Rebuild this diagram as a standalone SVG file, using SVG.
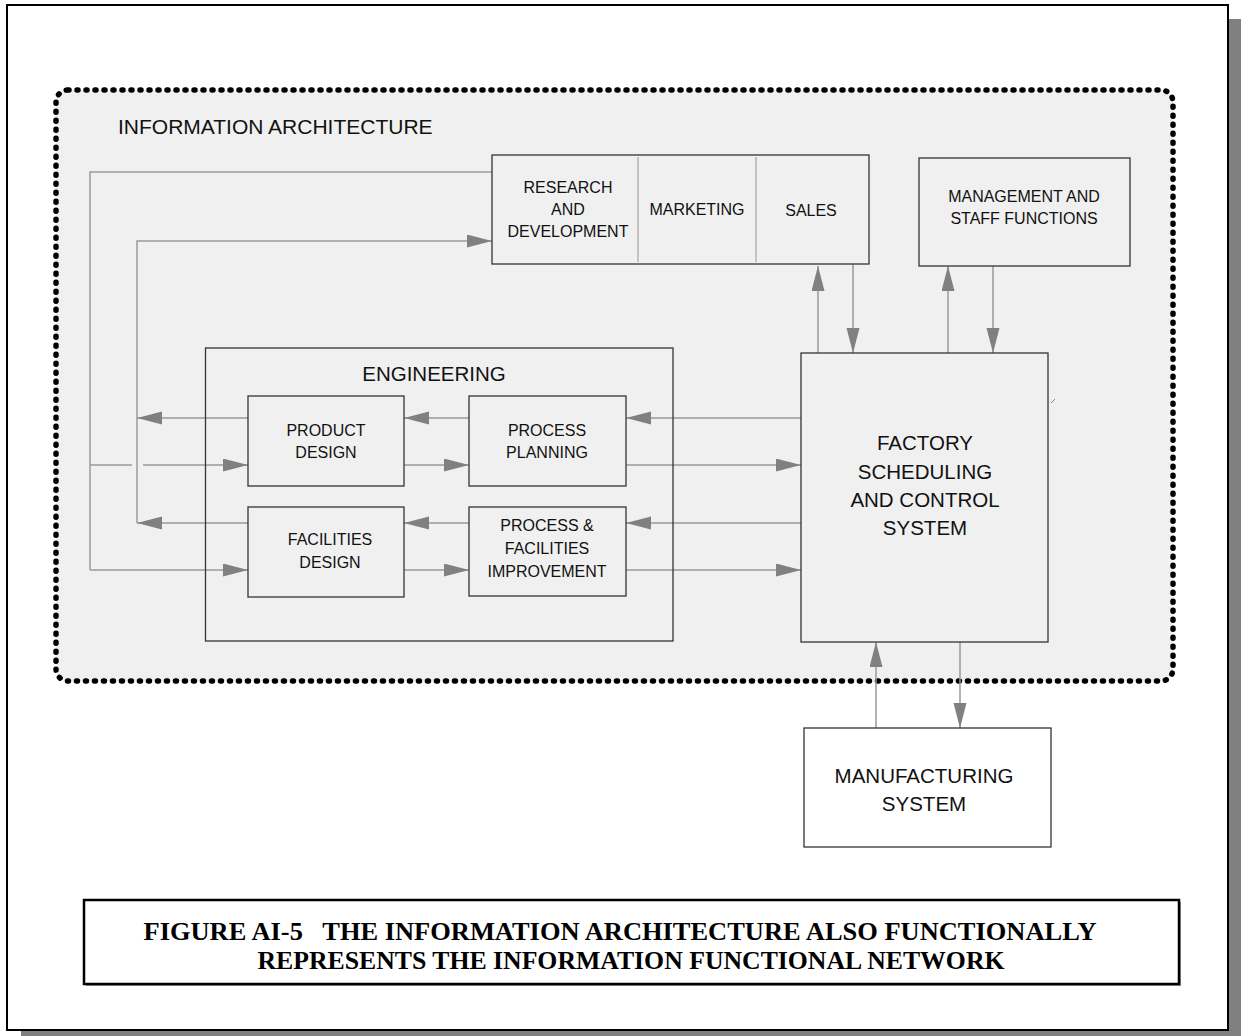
<svg xmlns="http://www.w3.org/2000/svg" width="1241" height="1036" viewBox="0 0 1241 1036">
<defs>
<marker id="ah" markerUnits="userSpaceOnUse" markerWidth="26" markerHeight="14" refX="25" refY="6.5" orient="auto">
<path d="M0,0 L25,6.5 L0,13 Z" fill="#808080"/>
</marker>
<style>
.lbl{font-family:"Liberation Sans",Arial,sans-serif;font-size:16px;fill:#111;text-anchor:middle}
.big{font-family:"Liberation Sans",Arial,sans-serif;font-size:20.5px;fill:#111;text-anchor:middle}
.box{fill:none;stroke:#333;stroke-width:1.3}
.conn{stroke:#9a9a9a;stroke-width:1.5;fill:none}
.arr{stroke:#9a9a9a;stroke-width:1.5;fill:none;marker-end:url(#ah)}
.cap{font-family:"Liberation Serif","Times New Roman",serif;font-weight:bold;font-size:26px;fill:#000;text-anchor:middle;white-space:pre}
</style>
</defs>
<rect x="21" y="19" width="1220" height="1017" fill="#808080"/>
<rect x="7" y="5" width="1221" height="1025" fill="#fff" stroke="#000" stroke-width="2"/>
<g id="information-architecture">
<rect x="56" y="90" width="1117" height="591" rx="12" fill="#f0f0f0" stroke="#000" stroke-width="5.5" stroke-linecap="round" stroke-dasharray="1 8"/>
<text x="118" y="134" class="big" style="text-anchor:start;font-size:21px">INFORMATION ARCHITECTURE</text>
</g>
<g id="connectors">
<polyline class="conn" points="492,172 90,172 90,570"/>
<polyline class="arr" points="137,523 137,241 492,241"/>
<line class="arr" x1="801" y1="418" x2="626" y2="418"/>
<line class="arr" x1="469" y1="418" x2="404" y2="418"/>
<line class="arr" x1="248" y1="418" x2="137" y2="418"/>
<line class="conn" x1="90" y1="465" x2="132" y2="465"/>
<line class="arr" x1="143" y1="465" x2="248" y2="465"/>
<line class="arr" x1="404" y1="465" x2="469" y2="465"/>
<line class="arr" x1="626" y1="465" x2="801" y2="465"/>
<line class="arr" x1="801" y1="523" x2="626" y2="523"/>
<line class="arr" x1="469" y1="523" x2="404" y2="523"/>
<line class="arr" x1="248" y1="523" x2="137" y2="523"/>
<line class="arr" x1="90" y1="570" x2="248" y2="570"/>
<line class="arr" x1="404" y1="570" x2="469" y2="570"/>
<line class="arr" x1="626" y1="570" x2="801" y2="570"/>
<line class="arr" x1="818" y1="353" x2="818" y2="266"/>
<line class="arr" x1="853" y1="264" x2="853" y2="353"/>
<line class="arr" x1="948" y1="353" x2="948" y2="266"/>
<line class="arr" x1="993" y1="266" x2="993" y2="353"/>
<line class="arr" x1="876" y1="728" x2="876" y2="642"/>
<line class="arr" x1="960" y1="642" x2="960" y2="728"/>
<line x1="1051" y1="403" x2="1055" y2="399" stroke="#888" stroke-width="1"/>
</g>
<g id="rd-marketing-sales">
<rect class="box" x="492" y="155" width="377" height="109"/>
<line x1="638" y1="157" x2="638" y2="262" stroke="#aaa" stroke-width="1.3"/>
<line x1="756" y1="157" x2="756" y2="262" stroke="#aaa" stroke-width="1.3"/>
<text class="lbl" x="568" y="193">RESEARCH</text>
<text class="lbl" x="568" y="215">AND</text>
<text class="lbl" x="568" y="237">DEVELOPMENT</text>
<text class="lbl" x="697" y="215">MARKETING</text>
<text class="lbl" x="811" y="216">SALES</text>
</g>
<g id="management">
<rect class="box" x="919" y="158" width="211" height="108"/>
<text class="lbl" x="1024" y="202">MANAGEMENT AND</text>
<text class="lbl" x="1024" y="224">STAFF FUNCTIONS</text>
</g>
<g id="engineering">
<rect class="box" x="205.5" y="348" width="467.5" height="293" stroke="#222"/>
<text class="big" x="434" y="381">ENGINEERING</text>
</g>
<g id="product-design">
<rect class="box" x="248" y="396" width="156" height="90" stroke="#222"/>
<text class="lbl" x="326" y="436">PRODUCT</text>
<text class="lbl" x="326" y="458">DESIGN</text>
</g>
<g id="process-planning">
<rect class="box" x="469" y="396" width="157" height="90" stroke="#222"/>
<text class="lbl" x="547" y="436">PROCESS</text>
<text class="lbl" x="547" y="458">PLANNING</text>
</g>
<g id="facilities-design">
<rect class="box" x="248" y="507" width="156" height="90" stroke="#222"/>
<text class="lbl" x="330" y="545">FACILITIES</text>
<text class="lbl" x="330" y="568">DESIGN</text>
</g>
<g id="process-facilities-improvement">
<rect class="box" x="469" y="507" width="157" height="89" stroke="#222"/>
<text class="lbl" x="547" y="531">PROCESS &amp;</text>
<text class="lbl" x="547" y="554">FACILITIES</text>
<text class="lbl" x="547" y="577">IMPROVEMENT</text>
</g>
<g id="factory">
<rect class="box" x="801" y="353" width="247" height="289"/>
<text class="big" x="925" y="450">FACTORY</text>
<text class="big" x="925" y="479">SCHEDULING</text>
<text class="big" x="925" y="507">AND CONTROL</text>
<text class="big" x="925" y="535">SYSTEM</text>
</g>
<g id="manufacturing">
<rect class="box" x="804" y="728" width="247" height="119" fill="#fff"/>
<text class="big" x="924" y="783">MANUFACTURING</text>
<text class="big" x="924" y="811">SYSTEM</text>
</g>
<g id="caption">
<rect x="86" y="902" width="1095" height="84" fill="#999"/>
<rect x="84" y="900" width="1095" height="84" fill="#fff" stroke="#000" stroke-width="2.5"/>
<text class="cap" x="620" y="940" textLength="953" lengthAdjust="spacingAndGlyphs">FIGURE AI-5   THE INFORMATION ARCHITECTURE ALSO FUNCTIONALLY</text>
<text class="cap" x="631" y="969" textLength="747" lengthAdjust="spacingAndGlyphs">REPRESENTS THE INFORMATION FUNCTIONAL NETWORK</text>
</g>
</svg>
